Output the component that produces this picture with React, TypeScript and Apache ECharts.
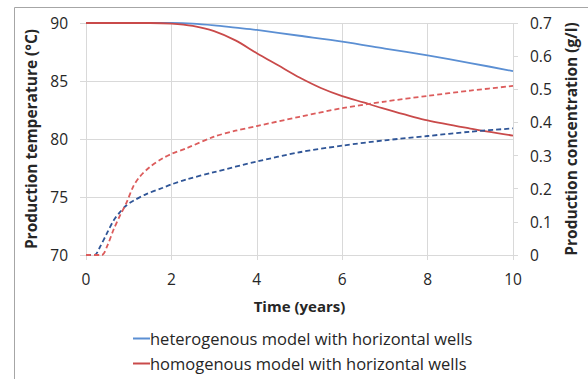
import React, { useEffect, useRef } from "react";
import * as echarts from "echarts";

const heteroTempX = [0, 1, 2, 2.5, 3, 3.5, 4, 5, 6, 7, 8, 9, 10];
const heteroTemp = [90, 90, 90, 89.95, 89.8, 89.6, 89.4, 88.9, 88.4, 87.8, 87.2, 86.55, 85.85];

const homoTempX = [0, 1, 1.5, 2, 2.5, 3, 3.5, 4, 4.5, 5, 5.5, 6, 6.5, 7, 8, 9, 10];
const homoTemp = [90, 90, 90, 89.95, 89.75, 89.3, 88.5, 87.4, 86.35, 85.3, 84.4, 83.7, 83.15, 82.6, 81.6, 80.9, 80.3];

const homoConcX = [0, 0.37, 0.5, 0.65, 0.8, 0.95, 1.1, 1.25, 1.5, 1.8, 2, 2.35, 3, 3.5, 4, 5, 6, 7, 8, 9, 10];
const homoConc = [0, 0, 0.028, 0.078, 0.12, 0.158, 0.205, 0.235, 0.266, 0.292, 0.305, 0.322, 0.357, 0.375, 0.389, 0.417, 0.443, 0.463, 0.48, 0.496, 0.51];

const heteroConcX = [0, 0.2, 0.33, 0.5, 0.65, 0.8, 0.95, 1.1, 1.4, 1.8, 2, 2.35, 3, 4, 5, 6, 7, 8, 9, 10];
const heteroConc = [0, 0, 0.025, 0.068, 0.105, 0.13, 0.15, 0.163, 0.183, 0.203, 0.213, 0.228, 0.25, 0.282, 0.31, 0.33, 0.346, 0.359, 0.372, 0.382];

const legendNames = [
  "heterogenous model with horizontal wells",
  "homogenous model with horizontal wells",
];

const zip = (xs: number[], ys: number[]) => xs.map((x, i) => [x, ys[i]]);

const FONT = "Open Sans";
const GRID = "#d9d9d9";
const TXT = "#262626";

export default function App() {
  const ref = useRef<HTMLDivElement>(null);
  useEffect(() => {
    if (!ref.current) return;
    const chart = echarts.init(ref.current, null, { renderer: "svg" });
    chart.setOption({
      animation: false,
      backgroundColor: "#ffffff",
      textStyle: { fontFamily: FONT },
      graphic: [
        {
          type: "rect",
          shape: { x: 14.5, y: 7.5, width: 620, height: 420 },
          style: { fill: "none", stroke: "#a6a6a6", lineWidth: 1 },
          silent: true,
        },
      ],
      grid: { left: 86, right: 75, top: 23, bottom: 124, outerBoundsMode: "none", containLabel: false },
      legend: {
        data: legendNames,
        orient: "vertical",
        left: 133,
        top: 330,
        itemWidth: 17,
        itemHeight: 2,
        itemGap: 8,
        icon: "rect",
        padding: 0,
        textStyle: { fontFamily: FONT, fontSize: 16.5, color: TXT, padding: [0, 0, 0, -5] },
      },
      xAxis: {
        type: "value",
        min: 0,
        max: 10,
        interval: 2,
        name: "Time (years)",
        nameLocation: "middle",
        nameGap: 43,
        nameTextStyle: { fontFamily: FONT, fontSize: 15, fontWeight: "bold", color: TXT },
        axisLine: { show: false },
        axisTick: { show: true, length: 5, lineStyle: { color: GRID } },
        axisLabel: { fontFamily: FONT, fontSize: 15.5, color: TXT, margin: 16 },
        splitLine: { show: true, lineStyle: { color: GRID, width: 1 } },
      },
      yAxis: [
        {
          type: "value",
          min: 70,
          max: 90,
          interval: 5,
          name: "Production temperature (°C)",
          nameLocation: "middle",
          nameGap: 43,
          nameRotate: 90,
          nameTextStyle: { fontFamily: FONT, fontSize: 15.5, fontWeight: "bold", color: TXT },
          axisLine: { show: false },
          axisTick: { show: true, length: 6, lineStyle: { color: GRID } },
          axisLabel: { fontFamily: FONT, fontSize: 15.5, color: TXT, margin: 18 },
          splitLine: { show: true, lineStyle: { color: GRID, width: 1 } },
        },
        {
          type: "value",
          min: 0,
          max: 0.7,
          interval: 0.1,
          position: "right",
          name: "Production concentration (g/l)",
          nameLocation: "middle",
          nameGap: 50,
          nameRotate: 90,
          nameTextStyle: { fontFamily: FONT, fontSize: 15.5, fontWeight: "bold", color: TXT },
          axisLine: { show: false },
          axisTick: { show: true, length: 5, lineStyle: { color: GRID } },
          axisLabel: { fontFamily: FONT, fontSize: 15.5, color: TXT, margin: 17 },
          splitLine: { show: false },
        },
      ],
      series: [
        {
          name: legendNames[0],
          type: "line",
          yAxisIndex: 0,
          data: zip(heteroTempX, heteroTemp),
          smooth: 0.3,
          showSymbol: false,
          lineStyle: { color: "#5b8fd3", width: 1.8 },
          itemStyle: { color: "#5b8fd3" },
        },
        {
          name: legendNames[1],
          type: "line",
          yAxisIndex: 0,
          data: zip(homoTempX, homoTemp),
          smooth: 0.3,
          showSymbol: false,
          lineStyle: { color: "#c94a4a", width: 1.8 },
          itemStyle: { color: "#c94a4a" },
        },
        {
          name: "heterogenous concentration",
          type: "line",
          yAxisIndex: 1,
          data: zip(heteroConcX, heteroConc),
          smooth: 0.3,
          showSymbol: false,
          lineStyle: { color: "#2f5597", width: 1.8, type: [5, 3] },
          itemStyle: { color: "#2f5597" },
        },
        {
          name: "homogenous concentration",
          type: "line",
          yAxisIndex: 1,
          data: zip(homoConcX, homoConc),
          smooth: 0.3,
          showSymbol: false,
          lineStyle: { color: "#dc5c5c", width: 1.8, type: [5, 3] },
          itemStyle: { color: "#dc5c5c" },
        },
      ],
    });
    return () => chart.dispose();
  }, []);
  return <div ref={ref} style={{ width: 588, height: 379, position: "absolute", left: 0, top: 0 }} />;
}
